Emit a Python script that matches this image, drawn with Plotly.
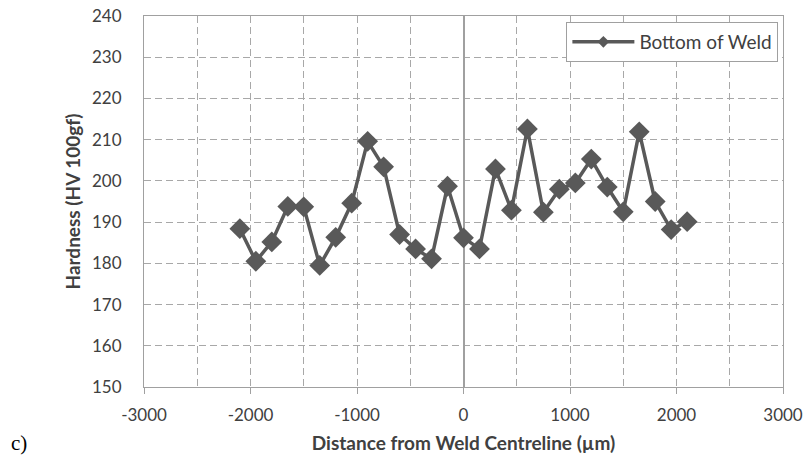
import plotly.graph_objects as go

distance_um = [-2100, -1950, -1800, -1650, -1500, -1350, -1200, -1050, -900, -750,
               -600, -450, -300, -150, 0, 150, 300, 450, 600, 750,
               900, 1050, 1200, 1350, 1500, 1650, 1800, 1950, 2100]
hardness_hv = [188.4, 180.5, 185.2, 193.8, 193.7, 179.5, 186.3, 194.6, 209.6, 203.4,
               187.0, 183.5, 181.1, 198.7, 186.2, 183.5, 202.9, 192.9, 212.6, 192.4,
               198.0, 199.5, 205.3, 198.5, 192.5, 211.9, 195.0, 188.2, 190.1]
series_name = "Bottom of Weld"
x_ticks = [-3000, -2000, -1000, 0, 1000, 2000, 3000]
y_ticks = [150, 160, 170, 180, 190, 200, 210, 220, 230, 240]

font_main = "Lato, 'Open Sans', sans-serif"
txt = "#404040"
grid = "#a8a8a8"
dash = "7px,4px"
series_color = "#595959"

fig = go.Figure()
fig.add_trace(go.Scatter(
    x=distance_um, y=hardness_hv, mode="lines+markers", name=series_name,
    line=dict(color=series_color, width=3.5),
    marker=dict(symbol="diamond", size=16, color=series_color),
    showlegend=False,
))
# legend entry (small marker, as in the original legend)
fig.add_trace(go.Scatter(
    x=[None], y=[None], mode="lines+markers", name=series_name,
    line=dict(color=series_color, width=3.5),
    marker=dict(symbol="diamond", size=9, color=series_color),
    showlegend=True,
))

fig.update_layout(
    width=808, height=457,
    margin=dict(l=144, r=25, t=16, b=70, autoexpand=False),
    paper_bgcolor="white", plot_bgcolor="white",
    font=dict(family=font_main, size=17, color=txt),
    showlegend=True,
    legend=dict(x=0.661, y=0.984, xanchor="left", yanchor="top",
                bordercolor="#a0a0a0", borderwidth=1, bgcolor="white",
                itemwidth=62, tracegroupgap=0,
                font=dict(size=19, color=txt)),
    xaxis=dict(range=[-3000, 3000], tickvals=x_ticks, ticktext=[str(v) for v in x_ticks],
               automargin=False,
               showgrid=True, gridcolor=grid, griddash=dash, gridwidth=1,
               minor=dict(dtick=500, tick0=0, showgrid=True, gridcolor=grid, griddash=dash, gridwidth=1),
               zeroline=True, zerolinecolor="#a0a0a0", zerolinewidth=1.5,
               showline=True, linecolor="#a0a0a0", linewidth=1, mirror=True,
               ticks="outside", ticklen=6, tickcolor="#a0a0a0",
               ticklabelstandoff=7,
               tickfont=dict(size=17, color=txt),
               title=dict(text="<b>Distance from Weld Centreline (µm)</b>",
                          font=dict(size=19, color=txt), standoff=12)),
    yaxis=dict(range=[150, 240], tickvals=y_ticks,
               automargin=False,
               showgrid=True, gridcolor=grid, griddash=dash, gridwidth=1,
               zeroline=False,
               showline=True, linecolor="#a0a0a0", linewidth=1, mirror=True,
               ticks="", ticklabelstandoff=18, tickfont=dict(size=17, color=txt),
               title=dict(text="<b>Hardness (HV 100gf)</b>",
                          font=dict(size=19, color=txt), standoff=6)),
    annotations=[dict(text="c)", xref="paper", yref="paper", x=-0.211, y=-0.152,
                      xanchor="left", yanchor="middle", showarrow=False,
                      font=dict(family="Liberation Serif, serif", size=21, color="black"))],
)

fig.write_html("out.html")
